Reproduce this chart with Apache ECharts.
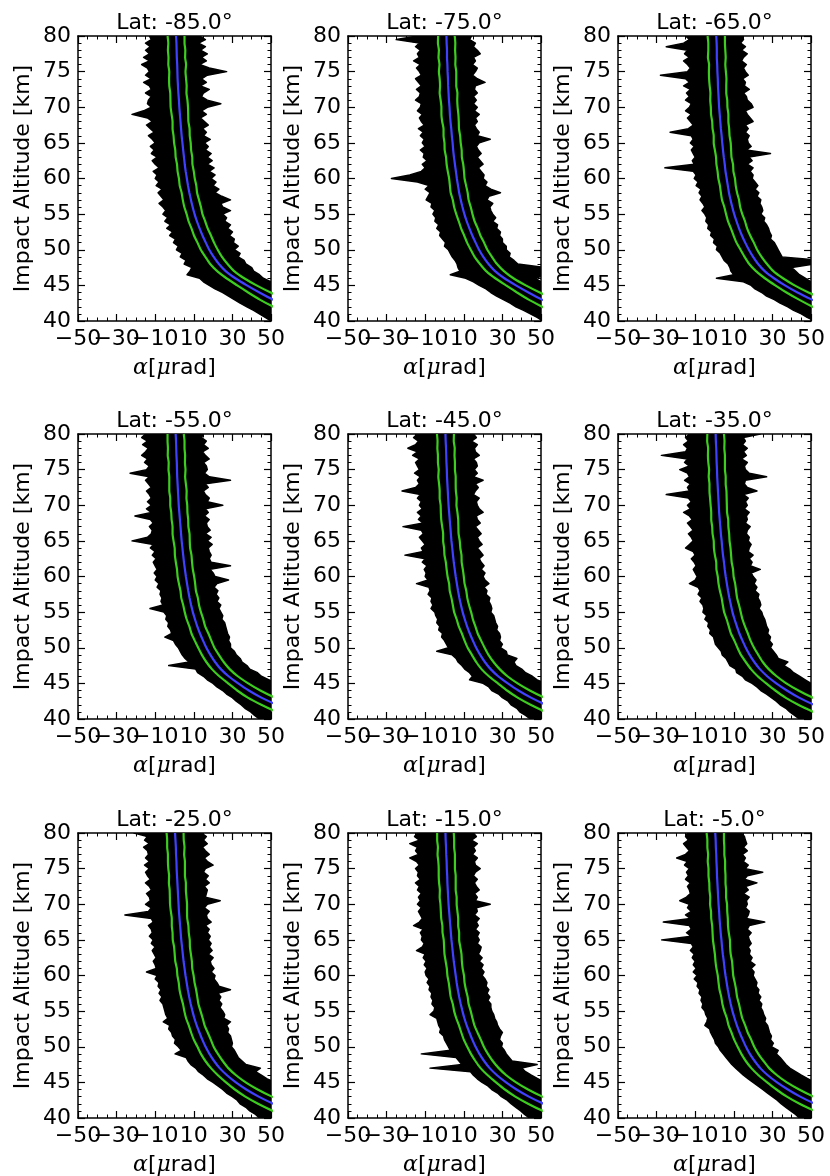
<!DOCTYPE html>
<html><head><meta charset="utf-8">
<script src="https://cdn.jsdelivr.net/npm/echarts@6/dist/echarts.min.js"></script>
<style>html,body{margin:0;padding:0;background:#fff}#c{width:830px;height:1176px}</style>
</head><body><div id="c"></div>
<script>
// ---------------- DATA ----------------
const latitudes = [-85, -75, -65, -55, -45, -35, -25, -15, -5];
const xMin = -50, xMax = 50, xStep = 20;      // alpha [µrad] axis, ticks -50,-30,-10,10,30,50
const yMin = 40, yMax = 80, yStep = 5;        // impact altitude [km]
// x tick labels are split over two label rows drawn at the same place, so that the
// overlapping labels of the original (−50−30−1010 30 50) are all kept
const xLabelsA = [-50, -10, 30];
const xLabelsB = [-30, 10, 50];

// altitude grid (1 km) for the mean / std curves
const alt1 = [80,79,78,77,76,75,74,73,72,71,70,69,68,67,66,65,64,63,62,61,60,
              59,58,57,56,55,54,53,52,51,50,49,48,47,46,45,44,43,42,41,40];
// altitude grid (0.5 km) for the envelope of the individual profiles
const alt05 = [80,79.5,79,78.5,78,77.5,77,76.5,76,75.5,75,74.5,74,73.5,73,72.5,72,71.5,71,70.5,
               70,69.5,69,68.5,68,67.5,67,66.5,66,65.5,65,64.5,64,63.5,63,62.5,62,61.5,61,60.5,
               60,59.5,59,58.5,58,57.5,57,56.5,56,55.5,55,54.5,54,53.5,53,52.5,52,51.5,51,50.5,
               50,49.5,49,48.5,48,47.5,47,46.5,46,45.5,45,44.5,44,43.5,43,42.5,42,41.5,41,40.5,40];

// mean bending angle profiles (blue)
const mean85 = [0.8,1.0,1.1,1.2,1.4,1.5,1.6,1.8,2.0,2.3,2.5,2.8,3.1,3.4,3.7,4.1,4.5,4.9,5.3,5.8,6.4,7.0,7.7,8.5,9.4,10.4,11.6,13.0,14.5,16.2,18.0,20.3,23.0,26.5,31.5,37.5,44.0,51.0,59,68,78];
const mean75 = [1.0,1.1,1.3,1.3,1.5,1.6,1.8,1.9,2.1,2.3,2.6,2.8,3.1,3.5,3.8,4.2,4.5,4.9,5.4,5.9,6.4,7.0,7.6,8.4,9.3,10.3,11.5,12.9,14.4,16.1,17.9,20.1,22.8,26.2,31.0,37.0,43.5,50.5,58.5,67,77];
const mean65 = [0.9,1.1,1.2,1.2,1.4,1.5,1.7,1.8,2.0,2.2,2.4,2.7,3.0,3.3,3.7,4.0,4.4,4.8,5.3,5.7,6.3,6.9,7.5,8.3,9.2,10.2,11.4,12.7,14.2,15.9,17.8,20.0,22.6,26.0,30.8,36.5,43.0,50.5,58.5,67.5,77.5];
const mean55 = [0.6,0.8,0.9,1.0,1.2,1.3,1.4,1.6,1.8,2.0,2.2,2.5,2.8,3.1,3.4,3.7,4.1,4.5,4.9,5.4,5.9,6.5,7.1,7.8,8.6,9.5,10.6,11.8,13.2,14.8,16.5,18.6,21.0,24.0,28.0,33.0,38.5,45.0,53,62,72];
const mean45 = [0.5,0.6,0.8,0.9,1.0,1.2,1.3,1.5,1.7,1.9,2.1,2.4,2.7,3.0,3.3,3.6,4.0,4.4,4.8,5.3,5.8,6.4,7.0,7.7,8.5,9.4,10.5,11.7,13.1,14.7,16.4,18.5,20.9,23.9,27.8,32.8,38.3,44.8,52.5,61.5,71.5];
const mean35 = [0.6,0.7,0.9,1.0,1.1,1.3,1.4,1.6,1.8,2.0,2.2,2.4,2.7,3.0,3.3,3.7,4.0,4.4,4.9,5.3,5.8,6.4,7.0,7.7,8.5,9.3,10.4,11.6,12.9,14.5,16.2,18.2,20.6,23.5,27.3,32.0,37.5,43.8,51.5,60.5,70.5];
const mean25 = [0.3,0.5,0.7,0.8,1.0,1.1,1.3,1.5,1.7,1.9,2.1,2.3,2.6,2.9,3.2,3.5,3.9,4.3,4.7,5.2,5.7,6.3,6.9,7.6,8.4,9.3,10.3,11.5,12.9,14.4,16.1,18.1,20.5,23.4,27.2,31.8,37.2,43.6,51.2,60,70];
const mean15 = [0.5,0.6,0.8,0.9,1.1,1.2,1.4,1.5,1.7,1.9,2.1,2.4,2.7,3.0,3.3,3.6,4.0,4.4,4.8,5.3,5.8,6.3,6.9,7.6,8.4,9.3,10.3,11.5,12.9,14.4,16.1,18.1,20.5,23.4,27.2,31.9,37.3,43.7,51.3,60,70];
const mean5  = [0.4,0.6,0.7,0.9,1.0,1.2,1.3,1.5,1.7,1.9,2.1,2.4,2.6,2.9,3.2,3.6,3.9,4.3,4.8,5.2,5.7,6.3,6.9,7.6,8.4,9.3,10.4,11.6,13.0,14.6,16.3,18.3,20.8,23.7,27.6,32.4,38.0,44.4,52,61,71];

// standard deviation (green curves = mean ± std)
const std85 = [4.4,4.2,4.5,4.3,4.6,4.2,4.4,4.5,4.2,4.4,4.5,4.3,4.1,4.4,4.2,4.3,4.1,4.3,4.0,4.2,4.1,4.3,4.0,4.2,4.3,4.1,4.3,4.2,4.4,4.3,4.4,4.3,4.5,4.4,4.6,5.0,5.8,6.8,7.8,9,10.5];
const std75 = [4.3,4.5,4.2,4.4,4.1,4.5,4.3,4.2,4.6,4.3,4.2,4.4,4.3,4.0,4.3,4.2,4.4,4.1,4.3,4.2,4.0,4.2,4.4,4.1,4.3,4.2,4.1,4.3,4.2,4.4,4.3,4.5,4.4,4.6,4.7,5.1,5.9,6.9,7.9,9.1,10.6];
const std65 = [4.5,4.3,4.4,4.6,4.2,4.4,4.5,4.3,4.1,4.4,4.3,4.5,4.2,4.3,4.1,4.4,4.2,4.0,4.3,4.1,4.3,4.1,4.2,4.4,4.1,4.2,4.4,4.2,4.3,4.5,4.3,4.4,4.6,4.5,4.7,5.0,5.7,6.7,7.7,8.9,10.4];
const std55 = [4.2,4.4,4.3,4.5,4.2,4.4,4.1,4.3,4.5,4.2,4.4,4.2,4.3,4.1,4.4,4.2,4.0,4.3,4.2,4.1,4.3,4.2,4.0,4.3,4.1,4.2,4.3,4.1,4.4,4.3,4.2,4.4,4.5,4.6,4.8,5.2,6.0,7.0,8.0,9.2,10.6];
const std45 = [4.4,4.2,4.5,4.3,4.4,4.2,4.5,4.3,4.2,4.4,4.1,4.3,4.4,4.2,4.0,4.3,4.2,4.4,4.1,4.2,4.2,4.0,4.3,4.1,4.2,4.4,4.2,4.3,4.1,4.3,4.4,4.3,4.5,4.7,4.8,5.1,5.9,6.9,7.9,9.1,10.5];
const std35 = [4.3,4.5,4.2,4.4,4.3,4.1,4.4,4.2,4.4,4.3,4.2,4.1,4.4,4.2,4.3,4.1,4.3,4.2,4.0,4.3,4.1,4.3,4.2,4.0,4.2,4.3,4.1,4.2,4.4,4.2,4.3,4.5,4.4,4.6,4.9,5.2,6.0,7.0,8.1,9.3,10.7];
const std25 = [4.4,4.3,4.5,4.2,4.4,4.3,4.1,4.4,4.2,4.3,4.4,4.2,4.0,4.3,4.2,4.4,4.1,4.2,4.3,4.0,4.2,4.1,4.3,4.2,4.0,4.2,4.3,4.1,4.3,4.4,4.2,4.4,4.5,4.5,4.7,5.1,5.9,6.9,7.9,9.1,10.5];
const std15 = [4.3,4.4,4.2,4.5,4.3,4.2,4.4,4.3,4.1,4.4,4.2,4.3,4.4,4.1,4.3,4.0,4.2,4.4,4.2,4.1,4.3,4.1,4.2,4.4,4.1,4.3,4.2,4.0,4.2,4.4,4.3,4.4,4.5,4.7,4.8,5.2,6.0,7.0,8.0,9.2,10.6];
const std5  = [4.5,4.3,4.4,4.2,4.5,4.3,4.4,4.2,4.3,4.1,4.4,4.2,4.3,4.1,4.2,4.4,4.2,4.1,4.3,4.2,4.0,4.2,4.3,4.1,4.3,4.2,4.0,4.3,4.2,4.4,4.3,4.4,4.6,4.6,4.8,5.1,5.9,6.9,7.9,9.1,10.5];

// left / right envelope of all individual profiles (black), on alt05
const left85 = [-13,-12,-15,-12.5,-15,-13,-16,-13,-17,-14, -13,-15,-12,-16,-13,-12,-15,-12,-13.5,-14, -12,-16,-22,-14,-11.5,-14.5,-12.5,-10.5,-13.5,-11.5, -10,-12.5,-10.5,-12,-9,-11.5,-10,-8,-11,-9, -10,-8,-9.5,-6.5,-8.5,-7,-5.5,-8,-6,-4.5, -6,-3.5,-5,-2,-4,-1,-2.5,0.5,-0.5,2, 1,4,3,6,5,9,8,6.5,13,15, 18,21,25,28,31,34,37.5,41,44,47, 50];
const right85 = [13,16,12.5,16,13.5,17,14,16.5,13,18, 27,17,14,16.5,13.5,18,15,14,17,24, 17,14,16.5,13.5,15.5,17.5,14.5,16.5,15,18.5, 15.5,17.5,16,19,17,19.5,17,20.5,18,21, 19,21.5,20,23,21,24.5,29,24,25,29, 25,27,26,29,27.5,30,28.5,31,30.5,33, 31,34,33,36,37,40,41,44,46,50, 52,56,59,63,66,70,74,78,82,87, 92];
const left75 = [-14,-25,-13,-15,-12.5,-14,-13,-16,-12.5,-14.5, -13,-12,-15,-13.5,-12,-14.5,-12.5,-13,-15,-12, -12.5,-14,-11.5,-13,-12,-10.5,-13.5,-11,-12.5,-10.5, -11.5,-10,-12.5,-10.5,-11,-9,-11.5,-10,-12,-18, -27.5,-14,-8,-10,-7.5,-8.5,-9.5,-6.5,-7,-5, -6,-4.5,-5,-3,-4,-2,-2.5,-1,0.5,0, 2,3,4,5.5,6.5,7,8,3,11,15, 18,21.5,24,27,30.5,34,37,41,44.5,48, 51];
const right75 = [14,13,16,15,17,18.5,15,16,14.5,17, 16,14.5,17,21,16,15.5,17,15,16.5,15, 17,15.5,18,16,17,15.5,16.5,18,17,23.7, 18,16.5,17.5,19,17,18.5,20,17.5,19,20.5, 20,22,21,24,29,23,22,25,23.5,24, 25,26.5,25,27.5,27,29,28.5,30,30,32, 32,34,33.5,36,38,52,55,53,47,50, 53,56,60,63,67,70,74,78,82,86, 91];
const left65 = [-15,-13,-16,-25,-14,-15.5,-13,-16,-14,-12.5, -14,-28,-15,-13,-16,-12.5,-14.5,-13,-15,-12, -13,-15,-12,-14,-12.5,-11,-13.5,-23,-12,-11, -12.5,-10.5,-12,-11,-10,-11.5,-10.5,-25.7,-11,-9.5, -10.5,-8.5,-9.5,-7,-8,-6.5,-7.5,-6,-5,-6.5, -5,-4,-4.5,-3,-3.5,-1.5,-2,0,-0.5,1.5, 1,3,4,5,7,8,8.5,10,1,15, 19,21,24.5,27,31,34,38,41,45,48, 52];
const right65 = [14.5,15,13.5,16,14,17,15,14,16.5,15, 16,17.5,14.5,16,15.5,18,15,16.5,17,19, 20,16,17,18.5,20,16,17.5,16,18,17, 17.5,19,16.5,29,18,19.5,17,20,18.5,20, 19.5,21,22.5,21,23,22,24,23.5,24.5,25, 24,26,25.5,27,28,28.5,29.5,29,31,32, 33,34,35,55,52,40,42,44,47,50, 52,56,59.5,63,67,70,74,78,82,87, 92];
const left55 = [-15,-17,-14,-16.5,-13.5,-15,-17,-14,-15.5,-13, -14.5,-23,-13,-15,-13.5,-12,-14.5,-13,-12,-14, -12,-14.5,-12,-20.5,-12.5,-11,-13,-11.5,-12,-14, -22,-11,-12.5,-10,-11.5,-9.5,-11,-10,-9,-10.5, -9,-10,-8,-9,-7,-7.5,-6.5,-7,-6,-12.7, -5.5,-4,-4.5,-3,-3.5,-2,-1.5,-5,-0.5,0.5, 2,3,4,5.5,7.5,-3,11,12,15,17, 20,22,25,27,30,32,34.5,36.5,39.5,41.5, 44];
const right55 = [15,14,16.5,15,17.5,14.5,16,18,15,16.5, 17,15.5,18,29,16,17.5,15,16,18,17, 25,16,17.5,15.5,18,16.5,17,18.5,16,19, 17,19.5,17.5,18,19,18,19,29,18.5,20, 21,28,22,20.5,22.5,21.5,23,22,24,23, 24,25,24.5,26,26.5,27,27.5,28.5,28,29, 29,31,32,34,35,37.5,39,43,45,49, 52,55,60,63,68,71,76,80,85,90, 95];
const left45 = [-14,-16,-13.5,-15,-19,-14,-16.5,-13,-15,-14, -13,-15.5,-12.5,-14,-13,-15,-22,-12.5,-14,-12, -13,-11.5,-14,-12,-13.5,-11,-21.5,-12,-11,-13, -11.5,-10,-12,-11,-20.5,-10,-11.5,-9,-10.5,-9.5, -10,-8.5,-14.5,-8,-7.5,-8.5,-6.5,-7,-6,-7, -5,-4.5,-3.5,-4,-2.5,-3,-1,-1.5,0,1, 2,-4,4,6,7,9,10.5,13,14.5,13, 20,23,24.5,28,30,33,34.5,37.5,39,42, 44.5];
const right45 = [15,16.5,14,17,15.5,16,18,15,16.5,17, 15.5,17,15,20,16,17.5,16,15,18,16.5, 17,18,20,16.5,17,18.5,16,17.5,19,17, 18,19.5,17,18.5,20,18,19,20.5,19,21, 20,21,23,20.5,22,21.5,23.5,23,24,24.5, 24,25.5,26,26.5,27.5,27,28.5,29,28.5,30, 29,32,32.5,37.5,36,37,40,42,45.5,48, 52,56,59,64,67,72,75,80,84,90, 95];
const left35 = [-13,-15,-13.5,-16,-14,-15,-27.5,-14,-15.5,-13, -18,-14,-13,-15.5,-12.5,-14,-13,-25,-13.5,-12, -14,-12.5,-16,-13,-11.5,-14,-12.5,-11,-13.5,-12, -11,-13,-15,-11,-10,-12,-10.5,-9.5,-11,-10, -9,-10,-13,-8.5,-7.5,-8.5,-6.5,-7.5,-6,-5.5, -6,-4,-5,-3,-3.5,-2,-2.5,-0.5,0,0.5, 2,3.5,4,6,7,8,11,11.5,14.5,16, 19.5,22,24,27,29.5,32,34,37,39,41.5, 44];
const right35 = [23.7,15,16,14.5,17,15,16.5,14,17,15.5, 16,18,27,16,15.5,17,22,15,17.5,16, 17,15.5,18,16.5,17,16,18.5,17,16.5,18, 17.5,19,18,17.5,20,18,19.5,18.5,23.7,19, 20,21.5,20.5,22,21,23,22.5,23.5,24,23, 24.5,25,26,26.5,27,28,27.5,29,28.5,30, 29,30.5,32,33,38,36,39,41,44,47, 50,54,58,62,66,70,75,79,84,89, 94];
const left25 = [-21,-14,-15.5,-13,-16,-14,-13.5,-15,-13,-15.5, -13,-15,-14,-12.5,-15,-13,-12,-14.5,-13,-12.5, -15,-12,-13.5,-25.7,-12,-11,-13.5,-12,-11.5,-13, -11,-12,-10,-11.5,-10.5,-9.5,-11,-10,-9.5,-14.5, -9,-10,-8,-8.5,-7,-8,-6.5,-7.5,-6,-5.5, -5,-4.5,-3.5,-5.8,-2.5,-3,-1.5,-1,0.5,0, 2,3.5,0.3,6,7,8.5,11,12.5,15,17, 20,22.5,25,27,30,32.5,34,37,39,42, 44];
const right25 = [14,16.5,15,17,14.5,16,18,15.5,17,20, 16,15,17.5,16,18,15.5,17,16.5,16,23.7, 17,15.5,18,16.5,17,19,16,18,17,18.5, 17.5,19,18,19.5,17.5,20,18.5,19,20.5,19, 21,20.5,22,23,29,22.5,24,23,24.5,23.5, 25,26,25.5,29,27,28,27.5,29,29.5,30, 29.5,31,32,33,35,37,44.5,42,45,48, 52,56,60,64,68,72,76,80,85,90, 95];
const left15 = [-14,-15.5,-13,-18,-14,-15,-13.5,-18,-14.5,-13, -15,-13.5,-14,-12.5,-15,-13,-14,-12,-13.5,-12.5, -14,-12,-13.5,-12.5,-11.5,-13,-16,-11,-12.5,-11.5, -12,-10.5,-11.5,-14.5,-10,-11,-9.5,-10.5,-9,-10, -9.5,-8,-9,-7.5,-8,-6.5,-7,-6,-6.5,-5, -5.5,-7.5,-4,-3.5,-3,-2,-2.5,-0.5,0,1, 2,3,-12,6,7.5,9,-7.5,13.5,15,17, 19.5,22.5,24.5,27.5,29.5,32.5,34.5,37,39.5,41.5, 44];
const right15 = [15,16.5,14,17,15,16,14.5,17,15.5,16, 18.5,16,15,17,15.5,16.5,18,15.5,17,16, 23.7,16.5,17,15.5,18,16.5,17.5,16,18,17, 18,17,19,18.5,17.5,19.5,18,20,19,20.5, 19.5,21,22,21.5,23,22,23.5,22.5,24,24, 24.5,25.5,26,27,27.5,28.5,30,29,28.5,30, 29.5,31,32,33.5,35,48,40,42,45,48.5, 52,56,60,64,68,72,76,80,85,90, 95];
const left5 = [-14,-15,-13.5,-16,-14.5,-13,-15,-19.6,-14,-15.5, -13,-14.5,-13.5,-15,-12.5,-14,-13,-12.5,-14.5,-18, -13,-14,-12,-15,-12.5,-26.5,-13,-12,-14.5,-12, -27.4,-12,-11,-12.5,-10.5,-11.5,-10,-11,-9.5,-11, -9,-10.5,-8.5,-9,-7.5,-8,-6.5,-7,-6,-6.5, -5,-4.5,-3.5,-4,-5,-2.5,-2,-1,0,0.5, 2,3,4.5,6,7.5,9,11,13,15,17.5, 20,22.5,25,27.5,30,32.5,34.5,37,39.5,42, 44];
const right5 = [14,15.5,16,16.7,15,17,14.5,16,15,17.5, 16,25,17,15.5,22,16,17.5,15,18,16.5, 17,16,18,17.5,16.5,26,18,17,19,17.5, 18,19,17.5,18.5,18,19.5,18.5,21,19,20.5, 20,21,22,21.5,23,22.5,24,23,24.5,24, 25,25.5,26.5,26,27.5,28,28.5,29.5,29,30.5, 29.5,33,32,34,35.5,37,39,42,45,48.5, 52,56,60,64,68,72,76,80,85,90, 95];

// ---------------- LAYOUT / STYLE ----------------
const colLeft = [78, 348, 618];
const rowTop = [36, 434, 833];
const W = 193, H = 285;
const FONT = '"DejaVu Sans", "Liberation Sans", sans-serif';
const FS = 22;
const BLUE = '#4040ff', GREEN = '#3dcc1f';

const panels = [
  {mean: mean85, std: std85, L: left85, R: right85},
  {mean: mean75, std: std75, L: left75, R: right75},
  {mean: mean65, std: std65, L: left65, R: right65},
  {mean: mean55, std: std55, L: left55, R: right55},
  {mean: mean45, std: std45, L: left45, R: right45},
  {mean: mean35, std: std35, L: left35, R: right35},
  {mean: mean25, std: std25, L: left25, R: right25},
  {mean: mean15, std: std15, L: left15, R: right15},
  {mean: mean5,  std: std5,  L: left5,  R: right5}
];

const grids = [], xAxes = [], yAxes = [], series = [], graphics = [];
const fmtMinus = v => (v < 0 ? '\u2212' + (-v) : String(v));
const fmtFrom = list => v => (list.indexOf(Math.round(v)) >= 0 ? fmtMinus(v) : '');
const tickCommon = {inside: true, length: 7, lineStyle: {color: '#000', width: 1.2}};
const lineCommon = {show: true, onZero: false, lineStyle: {color: '#000', width: 1.5}};
const xLabelStyle = {fontFamily: FONT, fontSize: FS, color: '#000', margin: 7,
                     showMinLabel: true, showMaxLabel: true, hideOverlap: false};

panels.forEach((p, k) => {
  const r = Math.floor(k / 3), c = k % 3;
  const left = colLeft[c], top = rowTop[r];
  grids.push({left, top, width: W, height: H, containLabel: false, outerBoundsMode: 'none', show: false});
  const xBase = xAxes.length, yBase = yAxes.length;
  // bottom x axis: line, ticks, first label row, name
  xAxes.push({
    type: 'value', gridIndex: k, position: 'bottom', min: xMin, max: xMax, interval: xStep,
    axisLine: lineCommon, axisTick: tickCommon,
    minorTick: {show: true, splitNumber: 4, length: 3.5, lineStyle: {color: '#000', width: 1}},
    splitLine: {show: false},
    axisLabel: Object.assign({show: true, formatter: fmtFrom(xLabelsA)}, xLabelStyle),
    name: '{i|\u03b1}[{i|\u03bc}rad]', nameLocation: 'middle', nameGap: 36,
    nameTextStyle: {fontFamily: FONT, fontSize: FS, color: '#000',
      rich: {i: {fontFamily: '"DejaVu Serif", serif', fontStyle: 'italic', fontSize: FS, color: '#000'}}}
  });
  // bottom x axis: second label row only
  xAxes.push({
    type: 'value', gridIndex: k, position: 'bottom', min: xMin, max: xMax, interval: xStep,
    axisLine: {show: false}, axisTick: {show: false}, minorTick: {show: false}, splitLine: {show: false},
    axisLabel: Object.assign({show: true, formatter: fmtFrom(xLabelsB)}, xLabelStyle)
  });
  // top x axis: ticks only
  xAxes.push({
    type: 'value', gridIndex: k, position: 'top', min: xMin, max: xMax, interval: xStep,
    axisLine: lineCommon, axisTick: tickCommon,
    minorTick: {show: true, splitNumber: 4, length: 3.5, lineStyle: {color: '#000', width: 1}},
    splitLine: {show: false}, axisLabel: {show: false}
  });
  yAxes.push({
    type: 'value', gridIndex: k, position: 'left', min: yMin, max: yMax, interval: yStep,
    axisLine: lineCommon, axisTick: tickCommon,
    minorTick: {show: true, splitNumber: 5, length: 3.5, lineStyle: {color: '#000', width: 1}},
    splitLine: {show: false},
    axisLabel: {show: true, fontFamily: FONT, fontSize: FS, color: '#000', margin: 7,
                showMinLabel: true, showMaxLabel: true, hideOverlap: false},
    name: 'Impact Altitude [km]', nameLocation: 'middle', nameRotate: 90, nameGap: 44,
    nameTextStyle: {fontFamily: FONT, fontSize: FS, color: '#000'}
  });
  yAxes.push({
    type: 'value', gridIndex: k, position: 'right', min: yMin, max: yMax, interval: yStep,
    axisLine: lineCommon, axisTick: tickCommon,
    minorTick: {show: true, splitNumber: 5, length: 3.5, lineStyle: {color: '#000', width: 1}},
    splitLine: {show: false}, axisLabel: {show: false}
  });

  const xi = xBase, yi = yBase;
  // envelope of individual profiles
  series.push({
    type: 'custom', xAxisIndex: xi, yAxisIndex: yi, clip: true, silent: true, z: 2,
    data: [[0, 60]],
    renderItem: (params, api) => {
      const pts = [];
      for (let i = 0; i < p.R.length; i++) pts.push(api.coord([p.R[i], alt05[i]]));
      for (let i = p.L.length - 1; i >= 0; i--) pts.push(api.coord([p.L[i], alt05[i]]));
      return {type: 'polygon', shape: {points: pts},
              style: {fill: '#000', stroke: '#000', lineWidth: 1.5, lineJoin: 'round'}};
    }
  });
  const lo = alt1.map((a, i) => [p.mean[i] - p.std[i], a]);
  const hi = alt1.map((a, i) => [p.mean[i] + p.std[i], a]);
  const mid = alt1.map((a, i) => [p.mean[i], a]);
  [lo, hi].forEach(d => series.push({
    type: 'line', xAxisIndex: xi, yAxisIndex: yi, data: d, symbol: 'none', smooth: 0.2,
    silent: true, z: 3, clip: true, lineStyle: {color: GREEN, width: 2.2}
  }));
  series.push({
    type: 'line', xAxisIndex: xi, yAxisIndex: yi, data: mid, symbol: 'none', smooth: 0.2,
    silent: true, z: 4, clip: true, lineStyle: {color: BLUE, width: 2.2}
  });

  graphics.push({
    type: 'text', x: left + W / 2, y: top - 2, silent: true,
    style: {text: 'Lat: ' + latitudes[k].toFixed(1) + '\u00b0', fill: '#000',
            font: FS + 'px ' + FONT, align: 'center', verticalAlign: 'bottom'}
  });
});

const chart = echarts.init(document.getElementById('c'), null, {renderer: 'canvas'});
chart.setOption({
  animation: false,
  backgroundColor: '#fff',
  grid: grids, xAxis: xAxes, yAxis: yAxes, series: series, graphic: graphics
});
</script>
</body></html>
